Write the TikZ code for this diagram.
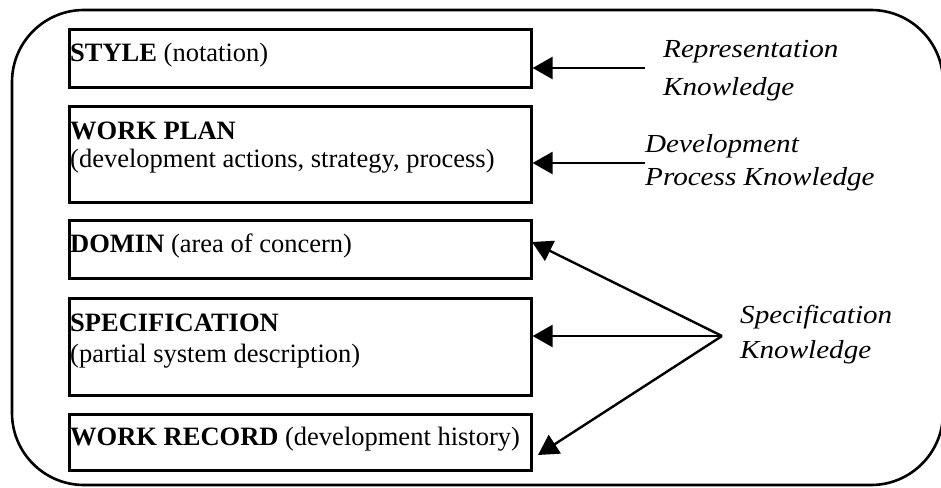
\documentclass[tikz,border=0pt]{standalone}
\usepackage{fontspec}
\setmainfont{Liberation Serif}
\newfontfamily\knfont[FakeStretch=1.12]{Liberation Serif}
\usetikzlibrary{arrows.meta}
\begin{document}
\begin{tikzpicture}[x=1pt,y=-1pt,
  layer/.style={draw, line width=2.6pt, minimum width=462pt, inner sep=0pt, anchor=north west},
  txt/.style={anchor=base west, inner sep=0pt, font=\fontsize{26.5}{30}\selectfont},
  kn/.style={anchor=base west, inner sep=0pt, font=\knfont\itshape\fontsize{26}{30}\selectfont},
  feed/.style={line width=2.4pt, -{Triangle[length=20pt,width=22pt]}}]
\useasboundingbox (0,0) rectangle (941,487);
% outer frame
\draw[line width=2.6pt, rounded corners=72pt] (12,10) rectangle (943,485);

% the five layers
\node[layer, minimum height=58pt] (style)  at (68,28)  {};
\node[layer, minimum height=96pt] (plan)   at (68,105) {};
\node[layer, minimum height=58pt] (domain) at (68,219) {};
\node[layer, minimum height=97pt] (spec)   at (68,297) {};
\node[layer, minimum height=56pt] (record) at (68,413) {};

\node[txt] (styleT)  at (70,62)  {\textbf{STYLE} (notation)};
\node[txt] (planT)   at (70,139) {\textbf{WORK PLAN}};
\node[txt] (planS)   at (70,167) {(development actions, strategy, process)};
\node[txt] (domainT) at (70,252) {\textbf{DOMIN} (area of concern)};
\node[txt] (specT)   at (70,331) {\textbf{SPECIFICATION}};
\node[txt] (specS)   at (70,362) {(partial system description)};
\node[txt] (recordT) at (70,445) {\textbf{WORK RECORD} (development history)};

% kinds of knowledge
\node[kn] (repA)  at (663,58)  {Representation};
\node[kn] (repB)  at (663,95)  {Knowledge};
\node[kn] (devA)  at (645,152) {Development};
\node[kn] (devB)  at (645,185) {Process Knowledge};
\node[kn] (specA) at (740,323) {Specification};
\node[kn] (specB) at (740,358) {Knowledge};

% arrows into the layers
\coordinate (repTail) at (645,68);
\coordinate (devTail) at (645,163);
\coordinate (apex)    at (722,336);
\coordinate (domTip)  at (532,242);
\coordinate (recTip)  at (538,455);

\draw[feed] (repTail) -- (repTail -| style.east);
\draw[feed] (devTail) -- (devTail -| plan.east);
\draw[feed] (apex) -- (domTip);
\draw[feed] (apex) -- (apex -| spec.east);
\draw[feed] (apex) -- (recTip);
\end{tikzpicture}
\end{document}
